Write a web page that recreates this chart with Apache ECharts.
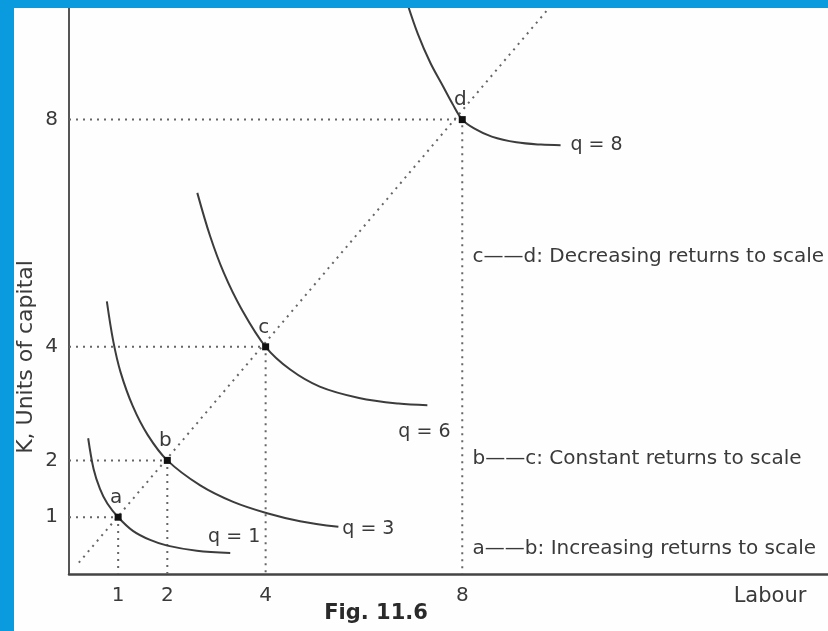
<!DOCTYPE html>
<html>
<head>
<meta charset="utf-8">
<script src="https://cdn.jsdelivr.net/npm/echarts@6/dist/echarts.min.js"></script>
<style>
  html, body { margin: 0; padding: 0; background: #fefefe; }
  #main { width: 828px; height: 631px; }
</style>
</head>
<body>
<div id="main"></div>
<script>
// tick labels
var labourTicks = [1, 2, 4, 8];
var capitalTicks = [1, 2, 4, 8];

// combination points on the expansion path
var pointNames = ["a", "b", "c", "d"];
var pointLabour = [1, 2, 4, 8];
var pointCapital = [1, 2, 4, 8];

// isoquants as [labour, capital]
var isoNames = ["q = 1", "q = 3", "q = 6", "q = 8"];
var isoQ1 = [[0.39, 2.39], [0.5, 1.85], [0.63, 1.5], [0.78, 1.24], [1, 1], [1.3, 0.76], [1.65, 0.6], [2.0, 0.5], [2.6, 0.41], [3.28, 0.37]];
var isoQ3 = [[0.77, 4.8], [0.9, 4.1], [1.05, 3.55], [1.3, 2.95], [1.6, 2.45], [2, 2], [2.67, 1.56], [3.34, 1.27], [4.03, 1.07], [4.7, 0.93], [5.48, 0.83]];
var isoQ6 = [[2.61, 6.71], [2.87, 5.95], [3.15, 5.3], [3.5, 4.68], [4, 4], [4.5, 3.6], [5.1, 3.3], [5.9, 3.1], [6.7, 3.0], [7.29, 2.97]];
var isoQ8 = [[6.88, 10.05], [7.1, 9.5], [7.35, 9.0], [7.6, 8.6], [7.8, 8.28], [8, 8], [8.25, 7.84], [8.6, 7.7], [9.1, 7.6], [9.6, 7.56], [10.0, 7.55]];

// ray from the origin
var rayPath = [[0.2, 0.2], [9.8, 10]];

// where the texts sit, in data units
var isoLabelAt = [[3.36, 0.65], [6.09, 0.79], [7.23, 2.5], [10.73, 7.55]];
var returnTexts = ["a——b: Increasing returns to scale", "b——c: Constant returns to scale", "c——d: Decreasing returns to scale"];
var returnTextAt = [[8.21, 0.44], [8.21, 2.02], [8.21, 5.58]];

var font = "DejaVu Sans";
var textColor = "#3a3a3a";

var myChart = echarts.init(document.getElementById("main"));

var dotted = {
  color: "#666",
  width: 2,
  type: [2, 5]
};

var series = [];

// projections of each point on to the axes
pointNames.forEach(function(n, i) {
  series.push({
    type: "line",
    symbol: "none",
    silent: true,
    lineStyle: dotted,
    data: [[0, pointCapital[i]], [pointLabour[i], pointCapital[i]], [pointLabour[i], 0]]
  });
});

series.push({
  type: "line",
  symbol: "none",
  silent: true,
  lineStyle: dotted,
  data: rayPath
});

[isoQ1, isoQ3, isoQ6, isoQ8].forEach(function(d) {
  series.push({
    type: "line",
    symbol: "none",
    smooth: 0.35,
    silent: true,
    lineStyle: { color: "#3c3c3c", width: 2 },
    data: d
  });
});

series.push({
  type: "scatter",
  symbol: "rect",
  symbolSize: 7,
  itemStyle: { color: "#111", opacity: 1 },
  z: 5,
  label: {
    show: true,
    position: "top",
    distance: 6,
    offset: [-2, 0],
    formatter: function(p) { return p.name; },
    fontFamily: font,
    fontSize: 20,
    color: textColor
  },
  data: pointNames.map(function(n, i) {
    return { name: n, value: [pointLabour[i], pointCapital[i]] };
  })
});

series.push({
  type: "scatter",
  symbolSize: 0,
  itemStyle: { opacity: 1 },
  label: {
    show: true,
    position: "inside",
    formatter: function(p) { return p.name; },
    fontFamily: font,
    fontSize: 19,
    color: textColor
  },
  data: isoNames.map(function(n, i) {
    return { name: n, value: isoLabelAt[i] };
  })
});

series.push({
  type: "scatter",
  symbolSize: 0,
  itemStyle: { opacity: 1 },
  label: {
    show: true,
    position: "right",
    distance: 0,
    formatter: function(p) { return p.name; },
    fontFamily: font,
    fontSize: 20,
    color: textColor
  },
  data: returnTexts.map(function(n, i) {
    return { name: n, value: returnTextAt[i] };
  })
});

var option = {
  backgroundColor: "#fefefe",
  animation: false,
  grid: {
    left: 69,
    right: 0,
    top: 6,
    bottom: 57,
    containLabel: false,
    outerBoundsMode: "none"
  },
  xAxis: {
    type: "value",
    min: 0,
    max: 15.44,
    splitLine: { show: false },
    axisTick: { show: false },
    axisLine: { show: true, lineStyle: { color: "#444", width: 2.5 } },
    axisLabel: {
      customValues: labourTicks,
      margin: 12,
      fontFamily: font,
      fontSize: 20,
      color: textColor
    }
  },
  yAxis: {
    type: "value",
    min: 0,
    max: 10,
    splitLine: { show: false },
    axisTick: { show: false },
    axisLine: { show: true, lineStyle: { color: "#555", width: 2 } },
    axisLabel: {
      customValues: capitalTicks,
      margin: 11,
      fontFamily: font,
      fontSize: 20,
      color: textColor
    }
  },
  graphic: [
    {
      type: "text",
      x: 26,
      y: 357,
      rotation: Math.PI / 2,
      style: {
        text: "K, Units of capital",
        fontFamily: font,
        fontSize: 22,
        fill: textColor,
        align: "center",
        verticalAlign: "middle"
      }
    },
    {
      type: "text",
      x: 770,
      y: 597,
      style: {
        text: "Labour",
        fontFamily: font,
        fontSize: 21,
        fill: textColor,
        align: "center",
        verticalAlign: "middle"
      }
    },
    {
      type: "text",
      x: 376,
      y: 614,
      style: {
        text: "Fig. 11.6",
        fontFamily: font,
        fontSize: 21,
        fontWeight: "bold",
        fill: "#2a2a2a",
        align: "center",
        verticalAlign: "middle"
      }
    },
    {
      type: "rect",
      z: 100,
      shape: { x: 0, y: 0, width: 828, height: 8 },
      style: { fill: "#0a9bdf" }
    },
    {
      type: "rect",
      z: 100,
      shape: { x: 0, y: 0, width: 14, height: 631 },
      style: { fill: "#0a9bdf" }
    }
  ],
  series: series
};

myChart.setOption(option);
</script>
</body>
</html>
